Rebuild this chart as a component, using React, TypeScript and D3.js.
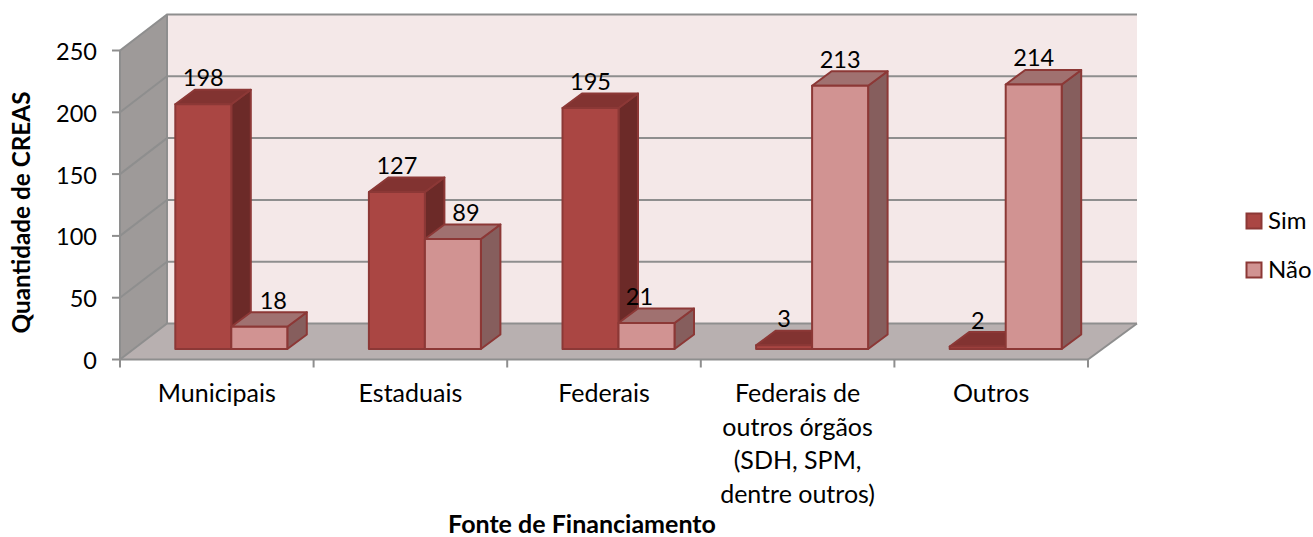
import React from "react";
import * as d3 from "d3";

const categories = ["Municipais", "Estaduais", "Federais", "Federais de|outros órgãos|(SDH, SPM,|dentre outros)", "Outros"];
const seriesNames = ["Sim", "Não"];
const sim = [198, 127, 195, 3, 2];
const nao = [18, 89, 21, 213, 214];
const yTicks = [0, 50, 100, 150, 200, 250];
const labelShiftNao = [14, 13, -7, 0, 0];

const W = 1313, H = 537;
const FONT = "Lato, Carlito, Calibri, sans-serif";
const x = d3.scaleBand<number>().domain(d3.range(categories.length)).range([120, 1088]).padding(0);
const y = d3.scaleLinear().domain([0, 250]).range([359.5, 50.5]);
const DX = 47, DY = -36;
const pal = [
  { front: "#AA4643", side: "#6C2A28", top: "#823331", stroke: "#8C3836" },
  { front: "#D19392", side: "#865E5D", top: "#A07170", stroke: "#8C3836" },
];
const BW = 56, BDX = 19.5, BDY = -14.5, INX = 14.5, INY = -10.5;
const pts = (a: number[][]) => a.map((p) => p.join(",")).join(" ");

function Bar({ i, s, v }: { i: number; s: number; v: number }) {
  const cx = x(i)! + x.bandwidth() / 2 + INX;
  const x0 = cx - BW + s * BW, x1 = x0 + BW;
  const yb = y(0) + INY, yt = y(v) + INY;
  const c = pal[s];
  return (
    <g stroke={c.stroke} strokeWidth={2} strokeLinejoin="round">
      <polygon points={pts([[x1, yb], [x1 + BDX, yb + BDY], [x1 + BDX, yt + BDY], [x1, yt]])} fill={c.side} />
      <polygon points={pts([[x0, yt], [x0 + BDX, yt + BDY], [x1 + BDX, yt + BDY], [x1, yt]])} fill={c.top} />
      <rect x={x0} y={yt} width={BW} height={yb - yt} fill={c.front} />
    </g>
  );
}

export default function App() {
  const y0 = y(0), yMax = y(250), xL = x.range()[0], xR = x.range()[1];
  const gray = "#8E8E8E";
  return (
    <svg width={W} height={H} viewBox={`0 0 ${W} ${H}`} fontFamily={FONT} style={{ position: "absolute", left: 0, top: 0, background: "#fff" }}>
      <polygon points={pts([[xL + DX, yMax + DY], [xR + 49, yMax + DY], [xR + 49, y0 + DY], [xL + DX, y0 + DY]])} fill="#F4E8E8" />
      <polygon points={pts([[xL, yMax], [xL + DX, yMax + DY], [xL + DX, y0 + DY], [xL, y0]])} fill="#9E9A99" />
      <polygon points={pts([[xL, y0], [xL + DX, y0 + DY], [xR + 49, y0 + DY], [xR, y0]])} fill="#B8B0B0" />
      {yTicks.map((t) => (
        <g key={t} stroke={gray} strokeWidth={2} fill="none">
          <polyline points={pts([[xL, y(t)], [xL + DX, y(t) + DY], [xR + 49, y(t) + DY]])} />
          <line x1={xL - 8} x2={xL} y1={y(t)} y2={y(t)} />
        </g>
      ))}
      <line x1={xL + DX} x2={xL + DX} y1={yMax + DY} y2={y0 + DY} stroke={gray} strokeWidth={2} />
      <line x1={xL} x2={xL} y1={yMax} y2={y0} stroke={gray} strokeWidth={2} />
      <line x1={xL} x2={xR} y1={y0} y2={y0} stroke={gray} strokeWidth={2} />
      <line x1={xR} x2={xR + 49} y1={y0} y2={y0 + DY} stroke={gray} strokeWidth={2} />
      {d3.range(categories.length + 1).map((i) => {
        const px = xL + i * x.bandwidth();
        return <line key={i} x1={px} x2={px} y1={y0} y2={y0 + 8} stroke={gray} strokeWidth={2} />;
      })}
      {categories.map((_, i) => (
        <g key={i}>
          <Bar i={i} s={0} v={sim[i]} />
          <Bar i={i} s={1} v={nao[i]} />
        </g>
      ))}
      <g fontSize={23.5} fill="#000" textAnchor="middle">
        {categories.map((_, i) => {
          const cx = x(i)! + x.bandwidth() / 2 + INX;
          return (
            <g key={i}>
              <text x={cx - BW / 2} y={y(sim[i]) + INY - 18}>{sim[i]}</text>
              <text x={cx + BW / 2 + labelShiftNao[i]} y={y(nao[i]) + INY - 18}>{nao[i]}</text>
            </g>
          );
        })}
      </g>
      <g fontSize={25} fill="#000" textAnchor="middle">
        {categories.map((c, i) => c.split("|").map((ln, j) => (
          <text key={`${i}-${j}`} x={x(i)! + x.bandwidth() / 2} y={402 + j * 33.5}>{ln}</text>
        )))}
      </g>
      <g fontSize={23.5} fill="#000" textAnchor="end">
        {yTicks.map((t) => <text key={t} x={97} y={y(t) + 9.5}>{t}</text>)}
      </g>
      <text transform="translate(30,212.5) rotate(-90)" textAnchor="middle" fontSize={24.3} fontWeight={700}>Quantidade de CREAS</text>
      <text x={582} y={532.5} textAnchor="middle" fontSize={25} fontWeight={700}>Fonte de Financiamento</text>
      {seriesNames.map((n, i) => (
        <g key={n}>
          <rect x={1246.5} y={213.5 + i * 49} width={15} height={15} fill={pal[i].front} stroke={pal[i].stroke} strokeWidth={2} />
          <text x={1268} y={229 + i * 49} fontSize={24}>{n}</text>
        </g>
      ))}
    </svg>
  );
}
